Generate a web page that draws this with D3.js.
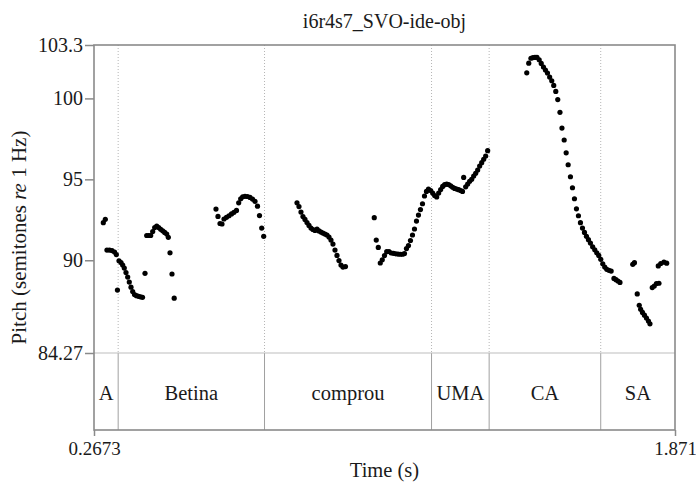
<!DOCTYPE html>
<html lang="en">
<head>
<meta charset="UTF-8">
<title>i6r4s7_SVO-ide-obj</title>
<script src="https://cdnjs.cloudflare.com/ajax/libs/d3/7.8.5/d3.min.js"></script>
<style>
body { margin: 0; background: #fff; }
text { font-family: "Liberation Serif", "Times New Roman", serif; fill: #1a1a1a; }
</style>
</head>
<body>
<script>
// pitch track (time in s, pitch in semitones re 1 Hz), one array per stretch
var segA_t = [0.293, 0.2985, 0.303, 0.310, 0.317, 0.324, 0.329, 0.332];
var segA_p = [92.32, 92.53, 90.63, 90.63, 90.60, 90.51, 90.35, 88.16];

var segB1_t = [0.3363, 0.3418, 0.3465, 0.3509, 0.3556, 0.3603, 0.3647, 0.3694, 0.3741, 0.3791, 0.3846, 0.3901, 0.3956, 0.4012,
               0.4081,
               0.4128, 0.4183, 0.4238, 0.4293, 0.4348, 0.4404, 0.4459, 0.4514, 0.4569, 0.4624, 0.4680, 0.4724,
               0.4771, 0.4826, 0.4887];
var segB1_p = [89.97, 89.86, 89.70, 89.52, 89.24, 88.96, 88.65, 88.34, 88.07, 87.88, 87.81, 87.77, 87.74, 87.71,
               89.19,
               91.53, 91.53, 91.53, 91.77, 92.02, 92.11, 92.02, 91.91, 91.82, 91.72, 91.62, 91.42,
               90.46, 89.15, 87.66];

var segB2_t = [0.604, 0.6095, 0.6151, 0.6206, 0.6261, 0.633, 0.6399, 0.6468, 0.6537, 0.6606, 0.6667, 0.6722, 0.6777,
               0.6841, 0.691, 0.6979, 0.7048, 0.7117, 0.7186, 0.7241, 0.7302, 0.7357];
var segB2_p = [93.16, 92.71, 92.27, 92.24, 92.55, 92.65, 92.75, 92.86, 92.96, 93.08, 93.55, 93.80, 93.92,
               93.95, 93.94, 93.88, 93.78, 93.64, 93.34, 92.76, 91.99, 91.48];

var segC_t = [0.8276, 0.8331, 0.8386, 0.8441, 0.8497, 0.8552, 0.8607, 0.8662, 0.8717, 0.8773, 0.8828, 0.8883, 0.8938,
              0.8993, 0.9049, 0.9104, 0.9159, 0.9214, 0.9269, 0.9325, 0.938, 0.9435, 0.949, 0.9545, 0.9614];
var segC_p = [93.55, 93.32, 92.98, 92.70, 92.52, 92.33, 92.15, 91.99, 91.90, 91.84, 91.93, 91.81, 91.74,
              91.68, 91.62, 91.56, 91.43, 91.25, 91.0, 90.63, 90.30, 89.98, 89.70, 89.58, 89.61];

var segU_t = [1.0409, 1.0464, 1.052, 1.0575, 1.063, 1.0691, 1.0752, 1.0815, 1.0878, 1.0939, 1.1, 1.1063, 1.1127, 1.1188,
              1.1243, 1.1298, 1.1353, 1.1408, 1.1464, 1.1519, 1.1574, 1.1629, 1.1684, 1.174, 1.1795, 1.185, 1.1905,
              1.1966, 1.2021, 1.2076, 1.2132, 1.2187, 1.2242, 1.2297, 1.2352, 1.2408, 1.2463, 1.2518, 1.2573, 1.2628,
              1.2684, 1.2739, 1.2794, 1.2844, 1.2877, 1.2932, 1.2987, 1.3042, 1.3098, 1.3153, 1.3208, 1.3263, 1.3318,
              1.3374, 1.3429, 1.3484, 1.3539];
var segU_p = [92.63, 91.25, 90.79, 89.83, 90.03, 90.29, 90.53, 90.54, 90.45, 90.43, 90.40, 90.38, 90.37, 90.37,
              90.41, 90.72, 90.91, 91.22, 91.56, 91.93, 92.42, 92.79, 93.13, 93.49, 93.97, 94.25, 94.40,
              94.31, 94.15, 94.00, 93.91, 94.15, 94.37, 94.56, 94.67, 94.71, 94.68, 94.60, 94.51, 94.44,
              94.40, 94.36, 94.31, 94.25, 95.12, 94.54, 94.71, 94.88, 95.00, 95.20, 95.37, 95.57, 95.82,
              96.03, 96.24, 96.44, 96.77];

var segCA_t = [1.4618, 1.4673, 1.4734, 1.4789, 1.4845, 1.49, 1.4961, 1.5018, 1.5079, 1.5134, 1.519, 1.525, 1.5308,
               1.5363, 1.5419, 1.5474, 1.5535, 1.559, 1.5651, 1.5706, 1.5761, 1.5824, 1.588, 1.5935, 1.599, 1.6045,
               1.61, 1.6156, 1.6211, 1.6266, 1.6321, 1.6376, 1.6437, 1.6495, 1.655, 1.6605, 1.6661, 1.6716, 1.6771,
               1.6826, 1.6887, 1.6948, 1.7025, 1.708, 1.7135, 1.7191];
var segCA_p = [101.58, 102.18, 102.48, 102.52, 102.53, 102.54, 102.39, 102.16, 101.94, 101.75, 101.57, 101.32, 101.09,
               100.80, 100.43, 99.93, 99.14, 98.17, 97.43, 96.64, 95.90, 95.16, 94.48, 93.80, 93.18, 92.75,
               92.32, 91.99, 91.72, 91.48, 91.27, 91.06, 90.83, 90.65, 90.46, 90.30, 90.06, 89.78, 89.58,
               89.44, 89.38, 89.33, 88.88, 88.80, 88.72, 88.63];

var segSA_t = [1.7544, 1.7591, 1.7668, 1.7723, 1.7762, 1.7812, 1.7867, 1.7922, 1.7977, 1.8019,
               1.8082, 1.8137, 1.8198, 1.8267, 1.8248, 1.8317, 1.8405, 1.848];
var segSA_p = [89.75, 89.85, 87.92, 87.22, 86.97, 86.78, 86.61, 86.43, 86.24, 86.07,
               88.31, 88.41, 88.56, 88.58, 89.65, 89.80, 89.88, 89.82];

// text grid tier
var boundaries = [0.334, 0.738, 1.199, 1.358, 1.666];
var intervalLabels = ["A", "Betina", "comprou", "UMA", "CA", "SA"];

// axes
var tMin = 0.2673, tMax = 1.871;
var pMin = 84.27, pMax = 103.3;
var pitchTicks = [100, 95, 90];
var titleText = "i6r4s7_SVO-ide-obj";

var W = 696, H = 484;
var plotLeft = 94, plotRight = 675, plotTop = 45, plotBottom = 353, tierBottom = 430;

var x = d3.scaleLinear().domain([tMin, tMax]).range([plotLeft, plotRight]);
var y = d3.scaleLinear().domain([pMin, pMax]).range([plotBottom, plotTop]);

var svg = d3.select("body").append("svg")
    .attr("width", W)
    .attr("height", H);

var frameColor = "#8a8a8a";

// dotted boundary lines in the pitch area
svg.selectAll(".bdot")
    .data(boundaries)
    .enter()
    .append("line")
    .attr("x1", function(d) { return x(d); })
    .attr("x2", function(d) { return x(d); })
    .attr("y1", plotTop)
    .attr("y2", plotBottom)
    .attr("stroke", "#b5b5b5")
    .attr("stroke-width", 1)
    .attr("stroke-dasharray", "1,2");

// solid boundary lines in the tier
svg.selectAll(".bsolid")
    .data(boundaries)
    .enter()
    .append("line")
    .attr("x1", function(d) { return x(d); })
    .attr("x2", function(d) { return x(d); })
    .attr("y1", plotBottom)
    .attr("y2", tierBottom)
    .attr("stroke", "#a0a0a0")
    .attr("stroke-width", 1);

// line between pitch area and tier
svg.append("line")
    .attr("x1", plotLeft).attr("x2", plotRight)
    .attr("y1", plotBottom).attr("y2", plotBottom)
    .attr("stroke", "#bdbdbd")
    .attr("stroke-width", 1.2);

// frame
svg.append("rect")
    .attr("x", plotLeft)
    .attr("y", plotTop)
    .attr("width", plotRight - plotLeft)
    .attr("height", tierBottom - plotTop)
    .attr("fill", "none")
    .attr("stroke", frameColor)
    .attr("stroke-width", 1.6);

// interval labels
var edges = [tMin].concat(boundaries).concat([tMax]);
svg.selectAll(".ilabel")
    .data(intervalLabels)
    .enter()
    .append("text")
    .attr("x", function(d, i) { return (x(edges[i]) + x(edges[i + 1])) / 2; })
    .attr("y", (plotBottom + tierBottom) / 2 + 1)
    .attr("dy", "0.35em")
    .attr("text-anchor", "middle")
    .style("font-size", "20.5px")
    .text(function(d) { return d; });

// pitch points
var segments = [
    [segA_t, segA_p], [segB1_t, segB1_p], [segB2_t, segB2_p], [segC_t, segC_p],
    [segU_t, segU_p], [segCA_t, segCA_p], [segSA_t, segSA_p]
];
var points = [];
segments.forEach(function(s) {
    s[0].forEach(function(t, i) { points.push({t: t, p: s[1][i]}); });
});

svg.selectAll(".pt")
    .data(points)
    .enter()
    .append("circle")
    .attr("cx", function(d) { return x(d.t); })
    .attr("cy", function(d) { return y(d.p); })
    .attr("r", 2.6)
    .style("fill", "#000");

// left axis: end values and round ticks
var yAxis = d3.axisLeft(y)
    .tickValues([pMax].concat(pitchTicks).concat([pMin]))
    .tickFormat(function(d) { return String(d); })
    .tickSize(9)
    .tickPadding(2);

var gy = svg.append("g")
    .attr("transform", "translate(" + plotLeft + ",0)")
    .call(yAxis);
gy.select(".domain").remove();
gy.selectAll(".tick line").attr("stroke", frameColor).attr("stroke-width", 1.5);
gy.selectAll(".tick text")
    .style("font-size", "20px")
    .style("font-family", "'Liberation Serif', serif")
    .attr("fill", "#1a1a1a");

// bottom axis: only the end values
var xAxis = d3.axisBottom(x)
    .tickValues([tMin, tMax])
    .tickFormat(function(d) { return String(d); })
    .tickSize(6)
    .tickPadding(6);

var gx = svg.append("g")
    .attr("transform", "translate(0," + tierBottom + ")")
    .call(xAxis);
gx.select(".domain").remove();
gx.selectAll(".tick line").attr("stroke", frameColor).attr("stroke-width", 1.5);
gx.selectAll(".tick text")
    .style("font-size", "19px")
    .style("font-family", "'Liberation Serif', serif")
    .attr("fill", "#1a1a1a");

// title
svg.append("text")
    .attr("x", (plotLeft + plotRight) / 2)
    .attr("y", 28)
    .attr("text-anchor", "middle")
    .style("font-size", "20px")
    .text(titleText);

// x label
svg.append("text")
    .attr("x", (plotLeft + plotRight) / 2)
    .attr("y", 477)
    .attr("text-anchor", "middle")
    .style("font-size", "20.5px")
    .text("Time (s)");

// y label with italic "re", centred on the whole frame (pitch area + tier)
var yl = svg.append("text")
    .attr("transform", "translate(26," + ((plotTop + tierBottom) / 2) + ") rotate(-90)")
    .attr("text-anchor", "middle")
    .style("font-size", "21px");
yl.append("tspan").text("Pitch (semitones ");
yl.append("tspan").style("font-style", "italic").text("re");
yl.append("tspan").text(" 1 Hz)");
</script>
</body>
</html>
